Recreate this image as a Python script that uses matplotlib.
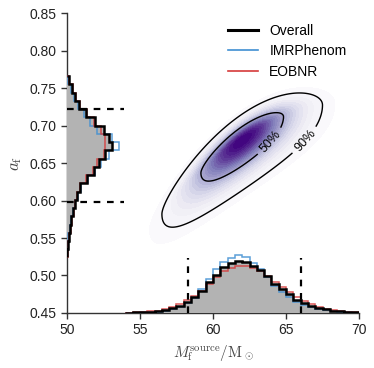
import numpy as np
import matplotlib
matplotlib.use("Agg")
import matplotlib.pyplot as plt
from matplotlib.lines import Line2D

plt.rcParams['font.family'] = ['Liberation Sans', 'DejaVu Sans']
plt.rcParams['mathtext.fontset'] = 'cm'

# ---------------- data ----------------
# final mass histogram (bin start, width, relative heights)
mass_bin_start = 54.0
mass_bin_width = 0.5
mass_overall = [0.3, 0.5, 0.8, 1.2, 1.8, 2.8, 4.5, 7, 11, 16, 22, 31, 38, 46, 50, 52,
                51, 47, 43, 37, 29, 24, 19, 13, 10, 7, 5, 3.5, 2.3, 1.5, 0.9, 0.5]
mass_imr = [0.2, 0.4, 0.6, 0.9, 1.3, 2.2, 3.8, 6, 10, 15, 24, 34, 44, 51, 55, 58,
            56, 50, 44, 36, 27, 21, 16, 11, 8, 5.5, 4, 2.5, 1.6, 1.0, 0.6, 0.3]
mass_eob = [0.4, 0.7, 1.0, 1.5, 2.3, 3.5, 5.5, 9, 13, 17, 22, 29, 36, 42, 45, 47,
            47, 45, 42, 37, 31, 26, 21, 16, 12, 8.5, 6, 4.3, 3, 2, 1.2, 0.7]

# final spin histogram (bin start, width, relative heights)
spin_bin_start = 0.524
spin_bin_width = 0.011
spin_overall = [0.5, 1.0, 1.7, 3.0, 4.3, 6.0, 7.7, 10, 13, 20, 27, 32, 38, 45,
                42, 37, 28, 19, 12, 8, 5, 2]
spin_imr = [0.3, 0.8, 1.4, 2.6, 4.0, 6.0, 8.0, 11, 14, 21, 28, 34, 42, 52,
            45, 30, 23, 17, 11, 7, 4, 1.5]
spin_eob = [0.8, 1.4, 2.3, 3.8, 5.2, 7.0, 8.5, 10, 13, 19, 26, 30, 37, 38,
            38, 34, 27, 20, 13, 9, 6, 2.5]

# 90% credible intervals
mass_interval = [58.3, 66.0]
spin_interval = [0.598, 0.722]

# 2D posterior: curved ridge, asymmetric spread across it, heavy-ish tails
ridge_x0 = 62.0
ridge_y0 = 0.6812
ridge_slope = 0.01323
ridge_curv = -0.00088
sigma_mass = 2.339
sigma_above = 0.0145
sigma_below = 0.0288
tail_nu = 12

contour_probs = [0.9, 0.5]
contour_labels = ['90%', '50%']

legend_labels = ['Overall', 'IMRPhenom', 'EOBNR']

# ---------------- plot ----------------
c_black = 'black'
c_blue = '#3f8fd2'
c_red = '#d63a3a'

fig = plt.figure(figsize=(3.74, 3.68), dpi=100)
ax = fig.add_axes([0.179, 0.1495, 0.781, 0.815])
xmin, xmax, ymin, ymax = 50, 70, 0.45, 0.85

# density field
gx = np.linspace(xmin, xmax, 400)
gy = np.linspace(ymin, ymax, 400)
X, Y = np.meshgrid(gx, gy)
U = X - ridge_x0
W = Y - (ridge_y0 + ridge_slope*U + ridge_curv*U**2)
S = np.where(W > 0, sigma_above, sigma_below)
R2 = (U/sigma_mass)**2 + (W/S)**2
Z = (1 + R2/tail_nu)**(-(tail_nu/2 + 1))
zs = np.sort(Z.ravel())[::-1]
cum = np.cumsum(zs)
cum /= cum[-1]
lev = sorted(zs[np.searchsorted(cum, p)] for p in contour_probs)   # [90%, 50%]

fill_levels = np.linspace(0.035*Z.max(), Z.max(), 25)
ax.contourf(X, Y, Z, levels=fill_levels, cmap='Purples', zorder=1)
cs = ax.contour(X, Y, Z, levels=lev, colors='black', linewidths=1.0, zorder=2)
mid = 0.5*(lev[0] + lev[1])
ax.clabel(cs, fmt=lambda v: contour_labels[1] if v > mid else contour_labels[0],
          inline=True, fontsize=9, manual=[(66.3, 0.68), (64.0, 0.677)])

# mass histograms (bottom)
hscale = 1/750.
m_edges = mass_bin_start + mass_bin_width*np.arange(len(mass_overall) + 1)
ax.stairs(ymin + np.array(mass_overall)*hscale, m_edges, baseline=ymin, fill=True,
          color='#b3b3b3', zorder=3)
ax.stairs(ymin + np.array(mass_imr)*hscale, m_edges, baseline=ymin, color=c_blue,
          lw=1.1, alpha=0.85, zorder=4)
ax.stairs(ymin + np.array(mass_eob)*hscale, m_edges, baseline=ymin, color=c_red,
          lw=1.1, alpha=0.85, zorder=4)
ax.stairs(ymin + np.array(mass_overall)*hscale, m_edges, baseline=ymin, color=c_black,
          lw=1.8, zorder=5)

# spin histograms (left)
wscale = 1/14.6
s_edges = spin_bin_start + spin_bin_width*np.arange(len(spin_overall) + 1)
ax.stairs(xmin + np.array(spin_overall)*wscale, s_edges, baseline=xmin, fill=True,
          color='#b3b3b3', orientation='horizontal', zorder=3)
ax.stairs(xmin + np.array(spin_imr)*wscale, s_edges, baseline=xmin, color=c_blue,
          lw=1.1, alpha=0.85, orientation='horizontal', zorder=4)
ax.stairs(xmin + np.array(spin_eob)*wscale, s_edges, baseline=xmin, color=c_red,
          lw=1.1, alpha=0.85, orientation='horizontal', zorder=4)
ax.stairs(xmin + np.array(spin_overall)*wscale, s_edges, baseline=xmin, color=c_black,
          lw=1.8, orientation='horizontal', zorder=5)

# credible interval markers
for m in mass_interval:
    ax.plot([m, m], [ymin, 0.523], color='black', lw=1.6, dashes=(3, 3), zorder=6)
for s in spin_interval:
    ax.plot([xmin, 53.9], [s, s], color='black', lw=1.6, dashes=(3, 3), zorder=6)

ax.set_xlim(xmin, xmax)
ax.set_ylim(ymin, ymax)
ax.set_xticks([50, 55, 60, 65, 70])
yt = [0.45, 0.50, 0.55, 0.60, 0.65, 0.70, 0.75, 0.80, 0.85]
ax.set_yticks(yt)
ax.set_yticklabels([f'{t:.2f}' for t in yt])
for s in ['top', 'right']:
    ax.spines[s].set_visible(False)
for s in ['left', 'bottom']:
    ax.spines[s].set_color('#333333')
    ax.spines[s].set_linewidth(1.0)
ax.tick_params(axis='both', direction='out', length=4, width=1, colors='#333333',
               labelsize=10, labelcolor='#222222')
ax.set_xlabel(r'$M_\mathrm{f}^\mathrm{source}/\mathrm{M}_\odot$', fontsize=11, color='#444444')
ax.set_ylabel(r'$a_\mathrm{f}$', fontsize=12, color='#444444')

handles = [Line2D([], [], color=c_black, lw=2.2),
           Line2D([], [], color=c_blue, lw=1.2),
           Line2D([], [], color=c_red, lw=1.2)]
ax.legend(handles, legend_labels, loc='upper right', bbox_to_anchor=(1.0, 1.005),
          frameon=False, fontsize=10, handlelength=2.2, labelspacing=0.45)

fig.savefig('out.png', dpi=100)
